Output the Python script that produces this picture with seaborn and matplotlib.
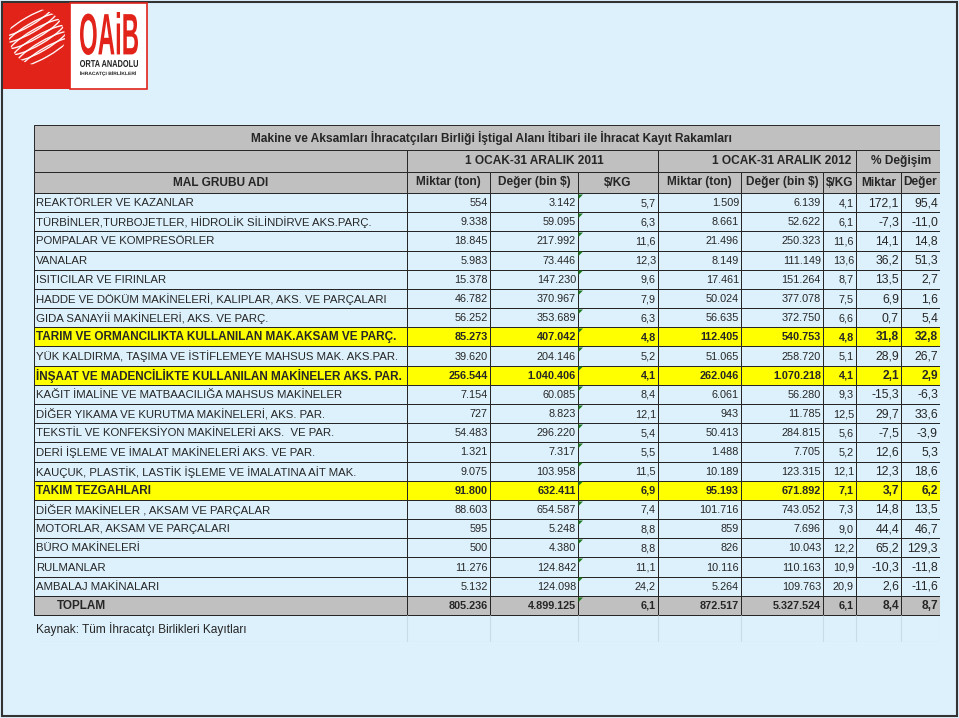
import numpy as np
import pandas as pd
import matplotlib.pyplot as plt
import seaborn as sns
from matplotlib.colors import ListedColormap
from matplotlib.patches import Rectangle, Circle, Ellipse, PathPatch
from matplotlib.textpath import TextPath
from matplotlib.font_manager import FontProperties
from matplotlib.transforms import Affine2D

TITLE = "Makine ve Aksamları İhracatçıları Birliği İştigal Alanı İtibari ile İhracat Kayıt Rakamları"
PERIODS = ["1 OCAK-31 ARALIK 2011", "1 OCAK-31 ARALIK 2012", "% Değişim"]
COLUMNS = ["MAL GRUBU ADI", "Miktar (ton)", r"Değer (bin \$)", r"\$/KG",
           "Miktar (ton)", r"Değer (bin \$)", r"\$/KG", "Miktar", "Değer"]
SOURCE = "Kaynak: Tüm İhracatçı Birlikleri Kayıtları"

GROUPS = [
    "REAKTÖRLER VE KAZANLAR",
    "TÜRBİNLER,TURBOJETLER, HİDROLİK SİLİNDİRVE AKS.PARÇ.",
    "POMPALAR VE KOMPRESÖRLER",
    "VANALAR",
    "ISITICILAR VE FIRINLAR",
    "HADDE VE DÖKÜM MAKİNELERİ, KALIPLAR, AKS. VE PARÇALARI",
    "GIDA SANAYİİ MAKİNELERİ, AKS. VE PARÇ.",
    "TARIM VE ORMANCILIKTA KULLANILAN MAK.AKSAM VE PARÇ.",
    "YÜK KALDIRMA, TAŞIMA VE İSTİFLEMEYE MAHSUS MAK. AKS.PAR.",
    "İNŞAAT VE MADENCİLİKTE KULLANILAN MAKİNELER AKS. PAR.",
    "KAĞIT İMALİNE VE MATBAACILIĞA MAHSUS MAKİNELER",
    "DİĞER YIKAMA VE KURUTMA MAKİNELERİ, AKS. PAR.",
    "TEKSTİL VE KONFEKSİYON MAKİNELERİ AKS.  VE PAR.",
    "DERİ İŞLEME VE İMALAT MAKİNELERİ AKS. VE PAR.",
    "KAUÇUK, PLASTİK, LASTİK İŞLEME VE İMALATINA AİT MAK.",
    "TAKIM TEZGAHLARI",
    "DİĞER MAKİNELER , AKSAM VE PARÇALAR",
    "MOTORLAR, AKSAM VE PARÇALARI",
    "BÜRO MAKİNELERİ",
    "RULMANLAR",
    "AMBALAJ MAKİNALARI",
    "TOPLAM",
]
MIKTAR_2011 = [554, 9338, 18845, 5983, 15378, 46782, 56252, 85273, 39620, 256544, 7154,
               727, 54483, 1321, 9075, 91800, 88603, 595, 500, 11276, 5132, 805236]
DEGER_2011 = [3142, 59095, 217992, 73446, 147230, 370967, 353689, 407042, 204146, 1040406, 60085,
              8823, 296220, 7317, 103958, 632411, 654587, 5248, 4380, 124842, 124098, 4899125]
KG_2011 = [5.7, 6.3, 11.6, 12.3, 9.6, 7.9, 6.3, 4.8, 5.2, 4.1, 8.4,
           12.1, 5.4, 5.5, 11.5, 6.9, 7.4, 8.8, 8.8, 11.1, 24.2, 6.1]
MIKTAR_2012 = [1509, 8661, 21496, 8149, 17461, 50024, 56635, 112405, 51065, 262046, 6061,
               943, 50413, 1488, 10189, 95193, 101716, 859, 826, 10116, 5264, 872517]
DEGER_2012 = [6139, 52622, 250323, 111149, 151264, 377078, 372750, 540753, 258720, 1070218, 56280,
              11785, 284815, 7705, 123315, 671892, 743052, 7696, 10043, 110163, 109763, 5327524]
KG_2012 = [4.1, 6.1, 11.6, 13.6, 8.7, 7.5, 6.6, 4.8, 5.1, 4.1, 9.3,
           12.5, 5.6, 5.2, 12.1, 7.1, 7.3, 9.0, 12.2, 10.9, 20.9, 6.1]
DEG_MIKTAR = [172.1, -7.3, 14.1, 36.2, 13.5, 6.9, 0.7, 31.8, 28.9, 2.1, -15.3,
              29.7, -7.5, 12.6, 12.3, 3.7, 14.8, 44.4, 65.2, -10.3, 2.6, 8.4]
DEG_DEGER = [95.4, -11.0, 14.8, 51.3, 2.7, 1.6, 5.4, 32.8, 26.7, 2.9, -6.3,
             33.6, -3.9, 5.3, 18.6, 6.2, 13.5, 46.7, 129.3, -11.8, -11.6, 8.7]
HIGHLIGHT = ["TARIM VE ORMANCILIKTA KULLANILAN MAK.AKSAM VE PARÇ.",
             "İNŞAAT VE MADENCİLİKTE KULLANILAN MAKİNELER AKS. PAR.",
             "TAKIM TEZGAHLARI"]
TOTAL = "TOPLAM"

BLUE, YELLOW, GREY = "#ddf1fc", "#ffff00", "#c0c0c0"
RED = "#e2231a"
LINE = "#262626"
FONT = "Liberation Sans"

COL_PX = [34, 407, 490, 578, 658, 741, 823, 856, 901, 940]
ROW_IDX = [-3, -2, -1, 0, 22, 23]
ROW_PX = [125, 150, 172, 193, 615, 642]


def piecewise(src, dst):
    src = np.asarray(src, float)
    dst = np.asarray(dst, float)
    lo_s = (dst[1] - dst[0]) / (src[1] - src[0])
    hi_s = (dst[-1] - dst[-2]) / (src[-1] - src[-2])

    def f(v):
        v = np.asarray(v, float)
        out = np.interp(v, src, dst)
        out = np.where(v < src[0], dst[0] + (v - src[0]) * lo_s, out)
        return np.where(v > src[-1], dst[-1] + (v - src[-1]) * hi_s, out)
    return f


def thousands(v):
    return f"{v:,}".replace(",", ".")


def dec(v):
    return f"{v:.1f}".replace(".", ",")


def fit_text(ax, s, box, color, weight="bold"):
    x0, y0, x1, y1 = box
    tp = TextPath((0, 0), s, size=10, prop=FontProperties(family=FONT, weight=weight))
    bb = tp.get_extents()
    tr = (Affine2D().translate(-bb.x0, -bb.y0)
          .scale((x1 - x0) / bb.width, -(y1 - y0) / bb.height)
          .translate(x0, y1) + ax.transData)
    ax.add_patch(PathPatch(tp, transform=tr, fc=color, ec="none"))


def draw_logo(bg):
    bg.add_patch(Rectangle((3, 3), 67, 86, fc=RED, ec="none"))
    bg.add_patch(Rectangle((70, 3), 77, 86, fc="white", ec=RED, lw=1.2))
    globe = Circle((37, 37), 28, fc="none", ec="none")
    bg.add_patch(globe)
    # tilted bands wrapping the globe
    for off in np.arange(-21, 22, 7):
        e = Ellipse((37 + off * 0.5, 37 + off * 0.87), 66, 16, angle=-30,
                    fc="none", ec="white", lw=1.0, alpha=0.95)
        bg.add_patch(e)
        e.set_clip_path(globe)
    fit_text(bg, "OAiB", (80, 12, 138, 55), RED)
    fit_text(bg, "ORTA ANADOLU", (80, 60, 138, 67), "#222222")
    fit_text(bg, "İHRACATÇI BİRLİKLERİ", (80, 71, 136, 76), "#222222")


def main():
    sns.set_theme(style="white")
    plt.rcParams["font.family"] = [FONT, "DejaVu Sans"]

    fig = plt.figure(figsize=(9.59, 7.18), dpi=100)
    fig.patch.set_facecolor(BLUE)

    bg = fig.add_axes([0, 0, 1, 1])
    bg.set_xlim(0, 959)
    bg.set_ylim(718, 0)
    bg.axis("off")
    bg.add_patch(Rectangle((1.5, 1.5), 955.5, 714.5, fc="none", ec="#333333", lw=1.5))
    draw_logo(bg)

    fills = pd.DataFrame({"g": GROUPS})
    fills["code"] = 0
    fills.loc[fills["g"].isin(HIGHLIGHT), "code"] = 1
    fills.loc[fills["g"] == TOTAL, "code"] = 2
    codes = np.repeat(fills["code"].to_numpy()[:, None], len(COLUMNS), axis=1)

    ax = fig.add_axes([COL_PX[0] / 959, 1 - ROW_PX[-1] / 718,
                       (COL_PX[-1] - COL_PX[0]) / 959, (ROW_PX[-1] - ROW_PX[0]) / 718])
    sns.heatmap(codes, ax=ax, cmap=ListedColormap([BLUE, YELLOW, GREY]),
                vmin=-0.5, vmax=2.5, cbar=False, linewidths=0.55, linecolor=LINE,
                xticklabels=False, yticklabels=False)
    ax.set_xscale("function", functions=(piecewise(range(len(COL_PX)), COL_PX),
                                         piecewise(COL_PX, range(len(COL_PX)))))
    ax.set_yscale("function", functions=(piecewise(ROW_IDX, ROW_PX),
                                         piecewise(ROW_PX, ROW_IDX)))
    ncol = len(COLUMNS)
    nrow = len(GROUPS)
    ax.set_xlim(0, ncol)
    ax.set_ylim(nrow + 1, -3)
    ax.patch.set_alpha(0)
    ax.axis("off")

    # header block
    hdr = dict(fc=GREY, ec=LINE, lw=0.7)
    ax.add_patch(Rectangle((0, -3), ncol, 1, **hdr))
    ax.add_patch(Rectangle((0, -2), 1, 1, **hdr))
    for x0, w in [(1, 3), (4, 3), (7, 2)]:
        ax.add_patch(Rectangle((x0, -2), w, 1, **hdr))
    for c in range(ncol):
        ax.add_patch(Rectangle((c, -1), 1, 1, **hdr))

    mid = piecewise(COL_PX, range(len(COL_PX)))((COL_PX[0] + COL_PX[-1]) / 2 + 4)
    ax.text(float(mid), -2.5, TITLE, ha="center", va="center", fontsize=8.6, fontweight="bold")
    for (x0, w), lab in zip([(1, 3), (4, 3), (7, 2)], PERIODS):
        ax.text(x0 + w / 2, -1.5, lab, ha="center", va="center", fontsize=8.6, fontweight="bold")
    for c, lab in enumerate(COLUMNS):
        ax.text(c + 0.5, -0.5, lab, ha="center", va="center", fontsize=8.6, fontweight="bold")

    # body
    cols = [(MIKTAR_2011, thousands, 7.8), (DEGER_2011, thousands, 7.8), (KG_2011, dec, 7.8),
            (MIKTAR_2012, thousands, 7.8), (DEGER_2012, thousands, 7.8), (KG_2012, dec, 7.8),
            (DEG_MIKTAR, dec, 8.8), (DEG_DEGER, dec, 8.8)]
    for r, name in enumerate(GROUPS):
        bold = name in HIGHLIGHT or name == TOTAL
        fw = "bold" if bold else "normal"
        ax.annotate(name, (0, r + 0.5), xytext=(23 if name == TOTAL else 2, -0.5),
                    textcoords="offset pixels", ha="left", va="center",
                    fontsize=8.5 if bold else 8.2, fontweight=fw, annotation_clip=False)
        for c, (vals, fmt, fs) in enumerate(cols, start=1):
            ax.annotate(fmt(vals[r]), (c + 1, r + 0.5), xytext=(-2, -0.5),
                        textcoords="offset pixels", ha="right", va="center",
                        fontsize=fs if not bold or c < 7 else fs - 0.2,
                        fontweight=fw, annotation_clip=False)

    # excel comment markers on $/KG 2011
    ax.plot([3] * nrow, [r + 0.04 for r in range(nrow)], ls="none",
            marker=[(0, 0), (1, 0), (0, -1)], ms=6.5, mew=0, color="#1e7b1e", zorder=5)

    # source row
    ax.vlines(range(1, ncol + 1), nrow, nrow + 1, color="#c9dbe6", lw=0.8)
    ax.hlines(nrow + 1, 0, ncol, color="#c9dbe6", lw=0.8)
    ax.annotate(SOURCE, (0, nrow + 0.5), xytext=(2, -0.5), textcoords="offset pixels",
                ha="left", va="center", fontsize=8.6, annotation_clip=False)

    fig.savefig("out.png", dpi=100, facecolor=fig.get_facecolor())


if __name__ == "__main__":
    main()
